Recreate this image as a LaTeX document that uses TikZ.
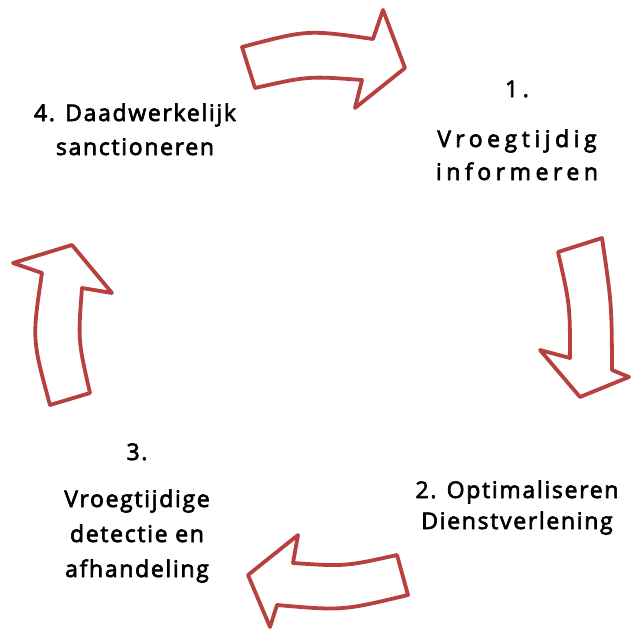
\documentclass[tikz,border=0pt]{standalone}
\usepackage{fontspec}
\setmainfont{Open Sans}
\newfontfamily\lblfont[LetterSpace=7.3,FakeBold=2.8]{Open Sans}
\newfontfamily\lblfontwide[LetterSpace=19.7,FakeBold=2.8]{Open Sans}
\definecolor{arrowred}{RGB}{183,65,62}
\tikzset{
  blockarrow/.style={draw=arrowred, fill=white, line width=3.8pt, line join=round},
  lbl/.style={font=\lblfont\fontsize{23}{27}\selectfont, text=black, anchor=base, inner sep=0pt},
  lblwide/.style={font=\lblfontwide\fontsize{23}{27}\selectfont, text=black, anchor=base, inner sep=0pt}
}
\begin{document}
\begin{tikzpicture}[x=1pt,y=-1pt]
\useasboundingbox (0,0) rectangle (631,630);
% top arrow (4 -> 1)
\draw[blockarrow] (242,47) .. controls (307.5,29.7) .. (373,39) -- (383,10) -- (405,68) -- (355,108) -- (362,80) .. controls (308.5,76) .. (255,88) -- cycle;
% right arrow (1 -> 2)
\draw[blockarrow] (558,252) -- (602,238) .. controls (611.7,304) .. (612,370) -- (629,377) -- (580,397) -- (540,350) -- (570,358) .. controls (570,305) .. (558,252) -- cycle;
% bottom arrow (2 -> 3)
\draw[blockarrow] (397,555) .. controls (345,566.5) .. (293,563) -- (298,535) -- (248,575) -- (270,627) -- (277,605) .. controls (342.5,610.7) .. (408,595) -- cycle;
% left arrow (3 -> 4)
\draw[blockarrow] (50,405) -- (90,393) .. controls (78,340.5) .. (82,288) -- (112,293) -- (72,245) -- (13,263) -- (42,273) .. controls (32,339) .. (50,405) -- cycle;
% label 1
\node[lblwide] (l1a) at (517,97) {1.};
\node[lblwide] (l1b) at (517,147) {Vroegtijdig};
\node[lblwide] (l1c) at (517,180) {informeren};
% label 2
\node[lbl] (l2a) at (517,498) {2. Optimaliseren};
\node[lbl] (l2b) at (517,529) {Dienstverlening};
% label 3
\node[lbl] (l3a) at (137,460) {3.};
\node[lbl] (l3b) at (137,507) {Vroegtijdige};
\node[lbl] (l3c) at (137,542) {detectie en};
\node[lbl] (l3d) at (137,577) {afhandeling};
% label 4
\node[lbl] (l4a) at (135,121) {4. Daadwerkelijk};
\node[lbl] (l4b) at (135,155) {sanctioneren};
\end{tikzpicture}
\end{document}
